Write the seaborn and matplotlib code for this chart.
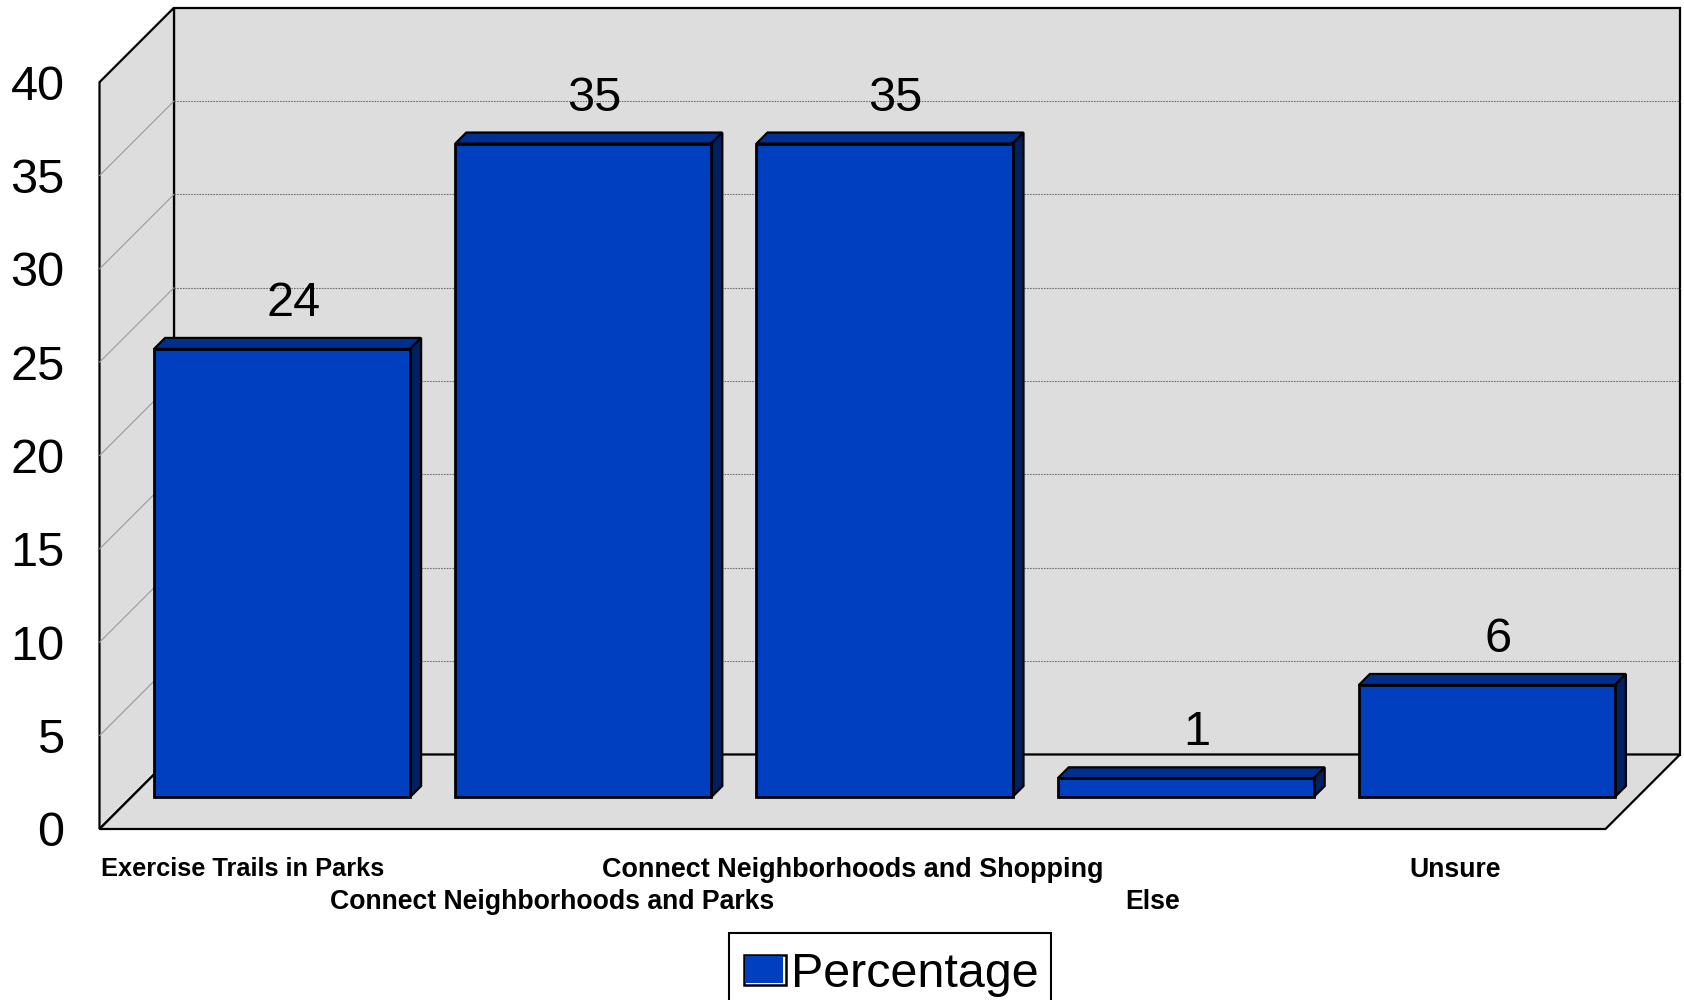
import matplotlib
matplotlib.use("Agg")
import matplotlib.pyplot as plt
import seaborn as sns
from matplotlib.patches import Polygon, Rectangle
from matplotlib.legend_handler import HandlerBase
from matplotlib.transforms import Affine2D

categories = ["Exercise Trails in Parks", "Connect Neighborhoods and Parks",
              "Connect Neighborhoods and Shopping", "Else", "Unsure"]
values = [24, 35, 35, 1, 6]
y_ticks = [0, 5, 10, 15, 20, 25, 30, 35, 40]
series_name = "Percentage"

FRONT, TOP, SIDE = "#0040C0", "#00308F", "#00205F"
WALL = "#DDDDDD"

sns.set_theme(style="white")
plt.rcParams["font.family"] = ["Liberation Sans", "DejaVu Sans"]

W, H = 1684, 1000
fig = plt.figure(figsize=(W / 100, H / 100), dpi=100, facecolor="white")


def rect(left, top, right, bottom):
    return [left / W, 1 - bottom / H, (right - left) / W, (bottom - top) / H]


PITCH = 301.2
UNIT = 18.67
BAR_DEPTH = 11
FRONT_DEPTH = -32
BACK_DEPTH = 42.5

# Bars live in an axes on the bars' front plane; the box is projected from it.
ax = fig.add_axes(rect(131.5, 797 - 40 * UNIT, 131.5 + 5 * PITCH, 797))
sns.barplot(x=categories, y=values, color=FRONT, saturation=1, width=0.85,
            edgecolor="black", linewidth=2, ax=ax, zorder=5)
ax.set_xlim(-0.5, 4.5)
ax.set_ylim(0, 40)
ax.axis("off")
bars = list(ax.patches[:len(values)])
for bar in bars:
    bar.set_clip_on(False)


def proj(x, y, depth):
    return (x + depth / PITCH, y + depth / UNIT)


x0, x1, y0, y1 = -0.5, 4.5, 0, 40
f, b = FRONT_DEPTH, BACK_DEPTH
walls = [
    [proj(x0, y0, b), proj(x1, y0, b), proj(x1, y1, b), proj(x0, y1, b)],
    [proj(x0, y0, f), proj(x0, y0, b), proj(x0, y1, b), proj(x0, y1, f)],
    [proj(x0, y0, f), proj(x1, y0, f), proj(x1, y0, b), proj(x0, y0, b)],
]
for w in walls:
    ax.add_patch(Polygon(w, closed=True, facecolor=WALL, edgecolor="black",
                         linewidth=1.6, joinstyle="miter", clip_on=False, zorder=1))

for t in y_ticks[1:-1]:
    p, q = proj(x0, t, f), proj(x0, t, b)
    ax.plot([p[0], q[0]], [p[1], q[1]], color="#999999", lw=0.8, clip_on=False, zorder=1.9)
    p, q = proj(x0, t, b), proj(x1, t, b)
    ax.plot([p[0], q[0]], [p[1], q[1]], color="#707070", lw=0.8, ls=(0, (1.5, 1)),
            clip_on=False, zorder=2)

# 3D faces and value labels derived from each bar
for bar, val in zip(bars, values):
    bx0, bx1, by = bar.get_x(), bar.get_x() + bar.get_width(), bar.get_height()
    d = BAR_DEPTH
    ax.add_patch(Polygon([(bx0, by), (bx1, by), proj(bx1, by, d), proj(bx0, by, d)],
                         facecolor=TOP, edgecolor="black", linewidth=1.6,
                         joinstyle="miter", clip_on=False, zorder=4))
    ax.add_patch(Polygon([(bx1, 0), proj(bx1, 0, d), proj(bx1, by, d), (bx1, by)],
                         facecolor=SIDE, edgecolor="black", linewidth=1.6,
                         joinstyle="miter", clip_on=False, zorder=4))
    ax.annotate(str(val), xy=((bx0 + bx1) / 2, by), xytext=(11, 33),
                textcoords="offset pixels", ha="center", va="baseline",
                fontsize=35, color="black", zorder=6, annotation_clip=False)

# Tick labels live on an axes on the front plane of the box
axf = fig.add_axes(rect(100, 829 - 40 * UNIT, 100 + 5 * PITCH, 829))
axf.patch.set_alpha(0)
for s in axf.spines.values():
    s.set_visible(False)
axf.set_xlim(-0.5, 4.5)
axf.set_ylim(0, 40)
axf.set_yticks(y_ticks)
axf.set_yticklabels([str(t) for t in y_ticks], fontsize=35, color="black")
axf.set_xticks(range(len(categories)))
axf.set_xticklabels(categories, fontsize=19.2, fontweight="bold", color="black")
axf.tick_params(axis="both", length=0)
axf.tick_params(axis="y", pad=25.5)
axf.tick_params(axis="x", pad=20.5)
axf.grid(False)
ticks = axf.xaxis.get_major_ticks()
for i in (1, 3):
    ticks[i].set_pad(20.5 + 23)
ticks[0].label1.set_fontsize(18.3)
ticks[2].label1.set_fontsize(19.45)
lab = ticks[0].label1
lab.set_transform(lab.get_transform() + Affine2D().translate(-8, 0))
lab = ticks[3].label1
lab.set_transform(lab.get_transform() + Affine2D().translate(-2, 0))


class DoubleBox(HandlerBase):
    def create_artists(self, legend, orig, xd, yd, w, h, fontsize, trans):
        outer = Rectangle((-xd, -yd), w, h, facecolor="white", edgecolor="black",
                          linewidth=1.8, transform=trans)
        inner = Rectangle((-xd + 1, -yd + 2), w - 3, h - 3, facecolor=FRONT, edgecolor="none",
                          transform=trans)
        return [outer, inner]


# Legend frame runs past the bottom of the picture, as in the reference
fig.add_artist(Rectangle((729 / W, 1 - 1010 / H), (1051 - 729) / W, (1010 - 933) / H,
                         transform=fig.transFigure, facecolor="white", edgecolor="black",
                         linewidth=1.5, zorder=2))
handle = Rectangle((0, 0), 1, 1, facecolor=FRONT, edgecolor="black")
leg = fig.legend([handle], [series_name], loc="upper left",
                 bbox_to_anchor=(729 / W, 1 - 937.5 / H), borderaxespad=0,
                 fontsize=34.9, frameon=False, borderpad=0.3, handlelength=0.88,
                 handleheight=0.6, handletextpad=0.1,
                 handler_map={Rectangle: DoubleBox()})
leg.set_zorder(3)
for t in leg.get_texts():
    t.set_color("black")

fig.savefig("out.png", dpi=100, facecolor="white")
